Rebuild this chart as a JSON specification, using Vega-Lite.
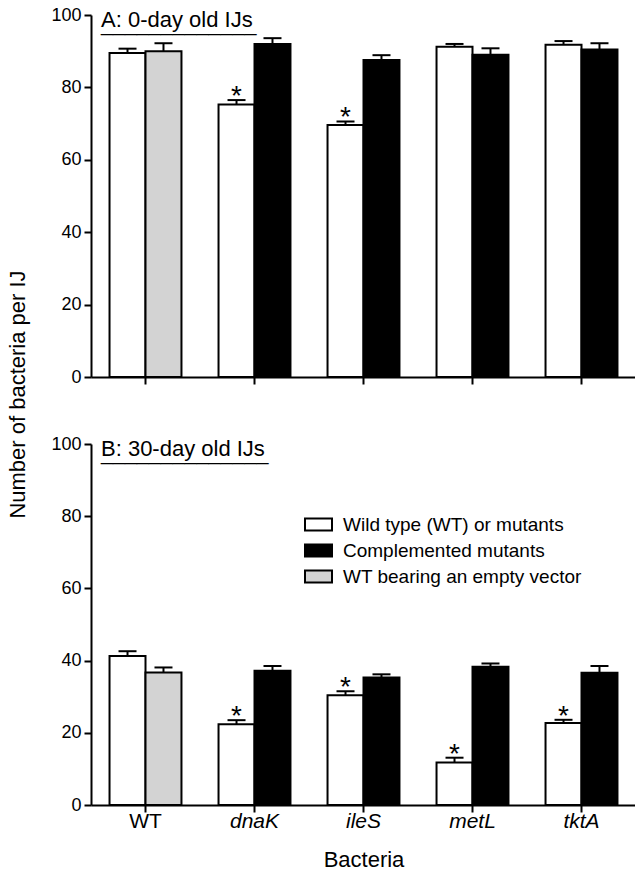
{
  "$schema": "https://vega.github.io/schema/vega-lite/v6.json",
  "padding": {"left": 6, "top": 6, "right": 0, "bottom": 0},
  "background": "white",
  "datasets": {
    "bars": [
      {"panel": "A", "strain": "WT", "pos": "1", "type": "Wild type (WT) or mutants", "mean": 89.5, "upper": 90.7, "sig": ""},
      {"panel": "A", "strain": "WT", "pos": "2", "type": "WT bearing an empty vector", "mean": 90.0, "upper": 92.2, "sig": ""},
      {"panel": "A", "strain": "dnaK", "pos": "1", "type": "Wild type (WT) or mutants", "mean": 75.3, "upper": 76.5, "sig": "*"},
      {"panel": "A", "strain": "dnaK", "pos": "2", "type": "Complemented mutants", "mean": 92.0, "upper": 93.6, "sig": ""},
      {"panel": "A", "strain": "ileS", "pos": "1", "type": "Wild type (WT) or mutants", "mean": 69.6, "upper": 70.6, "sig": "*"},
      {"panel": "A", "strain": "ileS", "pos": "2", "type": "Complemented mutants", "mean": 87.6, "upper": 88.9, "sig": ""},
      {"panel": "A", "strain": "metL", "pos": "1", "type": "Wild type (WT) or mutants", "mean": 91.2, "upper": 92.0, "sig": ""},
      {"panel": "A", "strain": "metL", "pos": "2", "type": "Complemented mutants", "mean": 89.0, "upper": 90.8, "sig": ""},
      {"panel": "A", "strain": "tktA", "pos": "1", "type": "Wild type (WT) or mutants", "mean": 91.8, "upper": 92.8, "sig": ""},
      {"panel": "A", "strain": "tktA", "pos": "2", "type": "Complemented mutants", "mean": 90.5, "upper": 92.2, "sig": ""},
      {"panel": "B", "strain": "WT", "pos": "1", "type": "Wild type (WT) or mutants", "mean": 41.3, "upper": 42.6, "sig": ""},
      {"panel": "B", "strain": "WT", "pos": "2", "type": "WT bearing an empty vector", "mean": 36.7, "upper": 38.1, "sig": ""},
      {"panel": "B", "strain": "dnaK", "pos": "1", "type": "Wild type (WT) or mutants", "mean": 22.4, "upper": 23.5, "sig": "*"},
      {"panel": "B", "strain": "dnaK", "pos": "2", "type": "Complemented mutants", "mean": 37.2, "upper": 38.5, "sig": ""},
      {"panel": "B", "strain": "ileS", "pos": "1", "type": "Wild type (WT) or mutants", "mean": 30.4, "upper": 31.5, "sig": "*"},
      {"panel": "B", "strain": "ileS", "pos": "2", "type": "Complemented mutants", "mean": 35.3, "upper": 36.2, "sig": ""},
      {"panel": "B", "strain": "metL", "pos": "1", "type": "Wild type (WT) or mutants", "mean": 11.8, "upper": 13.1, "sig": "*"},
      {"panel": "B", "strain": "metL", "pos": "2", "type": "Complemented mutants", "mean": 38.3, "upper": 39.2, "sig": ""},
      {"panel": "B", "strain": "tktA", "pos": "1", "type": "Wild type (WT) or mutants", "mean": 22.7, "upper": 23.6, "sig": "*"},
      {"panel": "B", "strain": "tktA", "pos": "2", "type": "Complemented mutants", "mean": 36.6, "upper": 38.5, "sig": ""}
    ]
  },
  "spacing": 67,
  "bounds": "flush",
  "resolve": {"legend": {"color": "independent"}},
  "vconcat": [
    {
      "width": 545,
      "height": 362,
      "title": {"text": "A: 0-day old IJs", "subtitle": "_____________", "anchor": "start", "frame": "group", "orient": "top", "offset": -30, "dx": 10, "fontSize": 22, "fontWeight": "normal", "color": "black", "subtitleFontSize": 21.5, "subtitleColor": "black", "subtitlePadding": -18},
      "data": {"name": "bars"},
      "transform": [{"filter": "datum.panel == 'A'"}],
      "encoding": {
        "x": {"field": "strain", "type": "nominal", "sort": ["WT", "dnaK", "ileS", "metL", "tktA"], "scale": {"paddingInner": 0.34, "paddingOuter": 0.17}, "axis": {"labels": false, "title": null}},
        "xOffset": {"field": "pos", "type": "nominal", "scale": {"paddingInner": 0, "paddingOuter": 0}}
      },
      "layer": [
        {
          "mark": {"type": "bar", "stroke": "black", "strokeWidth": 2, "opacity": 1},
          "encoding": {
            "y": {"field": "mean", "type": "quantitative", "scale": {"domain": [0, 100], "nice": false}, "axis": {"values": [0, 20, 40, 60, 80, 100], "title": "Number of bacteria per IJ", "titleX": -62, "titleY": 379, "titleAlign": "center", "titleAngle": -90, "titleBaseline": "bottom"}},
            "color": {"field": "type", "type": "nominal", "scale": {"domain": ["Wild type (WT) or mutants", "Complemented mutants", "WT bearing an empty vector"], "range": ["#ffffff", "#000000", "#d3d3d3"]}, "legend": null}
          }
        },
        {
          "mark": {"type": "rule", "strokeWidth": 2, "color": "black"},
          "encoding": {"y": {"field": "mean", "type": "quantitative"}, "y2": {"field": "upper"}}
        },
        {
          "mark": {"type": "tick", "thickness": 2, "size": 18, "color": "black", "opacity": 1},
          "encoding": {"y": {"field": "upper", "type": "quantitative"}}
        },
        {
          "mark": {"type": "text", "fontSize": 28, "baseline": "alphabetic", "dy": 5, "color": "black"},
          "encoding": {"y": {"field": "upper", "type": "quantitative"}, "text": {"field": "sig"}}
        }
      ]
    },
    {
      "width": 545,
      "height": 361,
      "title": {"text": "B: 30-day old IJs", "subtitle": "______________", "anchor": "start", "frame": "group", "orient": "top", "offset": -30, "dx": 10, "fontSize": 22, "fontWeight": "normal", "color": "black", "subtitleFontSize": 21.5, "subtitleColor": "black", "subtitlePadding": -18},
      "data": {"name": "bars"},
      "transform": [{"filter": "datum.panel == 'B'"}],
      "encoding": {
        "x": {"field": "strain", "type": "nominal", "sort": ["WT", "dnaK", "ileS", "metL", "tktA"], "scale": {"paddingInner": 0.34, "paddingOuter": 0.17}, "axis": {"title": "Bacteria", "labelAngle": 0, "labelFontSize": 21, "labelFontStyle": {"expr": "datum.value == 'WT' ? 'normal' : 'italic'"}, "labelPadding": -2, "titlePadding": 18}},
        "xOffset": {"field": "pos", "type": "nominal", "scale": {"paddingInner": 0, "paddingOuter": 0}}
      },
      "layer": [
        {
          "mark": {"type": "bar", "stroke": "black", "strokeWidth": 2, "opacity": 1},
          "encoding": {
            "y": {"field": "mean", "type": "quantitative", "scale": {"domain": [0, 100], "nice": false}, "axis": {"values": [0, 20, 40, 60, 80, 100], "title": null}},
            "color": {"field": "type", "type": "nominal", "scale": {"domain": ["Wild type (WT) or mutants", "Complemented mutants", "WT bearing an empty vector"], "range": ["#ffffff", "#000000", "#d3d3d3"]}, "legend": {"title": null, "orient": "none", "legendX": 213, "legendY": 66, "symbolType": "M-1,-0.444H1V0.444H-1Z", "symbolSize": 729, "symbolStrokeColor": "black", "symbolStrokeWidth": 2, "symbolOpacity": 1, "labelFontSize": 19, "labelColor": "black", "labelOffset": 10, "labelLimit": 500, "rowPadding": 1, "padding": 0}}
          }
        },
        {
          "mark": {"type": "rule", "strokeWidth": 2, "color": "black"},
          "encoding": {"y": {"field": "mean", "type": "quantitative"}, "y2": {"field": "upper"}}
        },
        {
          "mark": {"type": "tick", "thickness": 2, "size": 18, "color": "black", "opacity": 1},
          "encoding": {"y": {"field": "upper", "type": "quantitative"}}
        },
        {
          "mark": {"type": "text", "fontSize": 28, "baseline": "alphabetic", "dy": 5, "color": "black"},
          "encoding": {"y": {"field": "upper", "type": "quantitative"}, "text": {"field": "sig"}}
        }
      ]
    }
  ],
  "config": {
    "font": "Liberation Sans",
    "view": {"stroke": null},
    "axis": {"grid": false, "domainColor": "black", "domainWidth": 2, "tickColor": "black", "tickWidth": 2, "tickSize": 7, "labelColor": "black", "labelFontSize": 18, "labelPadding": 3, "titleColor": "black", "titleFontSize": 22, "titleFontWeight": "normal"},
    "legend": {"labelFont": "Liberation Sans"}
  }
}
